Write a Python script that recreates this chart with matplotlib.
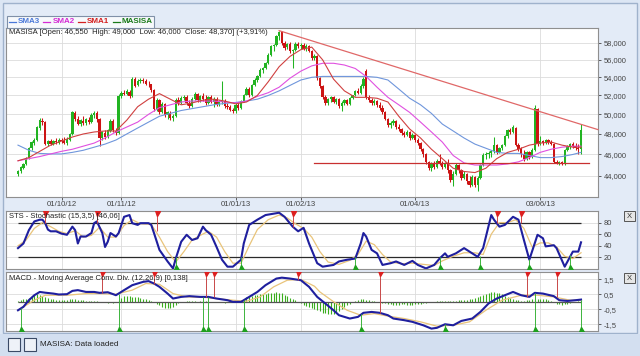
import numpy as np
import matplotlib
matplotlib.use('Agg')
import matplotlib.pyplot as plt
from matplotlib.patches import Rectangle
from matplotlib.lines import Line2D
from matplotlib.ticker import NullLocator, FixedLocator

plt.rcParams['font.family'] = ['Liberation Sans', 'DejaVu Sans']

# ---------------- data ----------------
opn = [44200, 44400, 44700, 45100, 45700, 46600, 47100, 47400, 48600, 49300,
       49200, 47000, 47300, 47000, 47300, 47100, 47400, 47300, 47100, 47400,
       48000, 50100, 49500, 49000, 49300, 49100, 49400, 49200, 49900, 50100,
       49500, 47600, 48100, 47700, 48300, 49300, 48300, 48100, 51900, 52300,
       52200, 52400, 51900, 53800, 53100, 53600, 53700, 53600, 53300, 53200,
       52600, 50600, 51500, 50200, 51100, 49900, 50100, 49600, 49800, 51500,
       51200, 51700, 51800, 51200, 50900, 51600, 52200, 51500, 51900, 51600,
       51200, 51800, 51300, 51600, 51100, 51300, 51400, 50900, 50800, 50500,
       50300, 51000, 50700, 51400, 52100, 52700, 52000, 53100, 53700, 54100,
       54800, 55000, 55600, 56600, 57600, 57700, 58800, 59300, 58000, 57500,
       57900, 57000, 57100, 57900, 57600, 57800, 57300, 57600, 57000, 56200,
       56400, 53900, 53000, 51800, 51200, 51600, 51800, 51300, 51600, 50900,
       51200, 51500, 51100, 51700, 52000, 52500, 52300, 53000, 54700, 51800,
       51500, 51200, 51400, 51000, 50700, 50200, 49500, 48900, 49100, 49300,
       48700, 48500, 48100, 47900, 48200, 47600, 47900, 47400, 47100, 46500,
       46000, 45300, 44700, 45200, 44800, 45400, 45200, 44800, 45100, 44500,
       43600, 44200, 45000, 44500, 43800, 44200, 43500, 43200, 43900, 43200,
       43800, 45000, 45900, 46000, 46100, 46300, 46900, 46200, 46600, 46900,
       47800, 48400, 48200, 48600, 46900, 46500, 46000, 45600, 46200, 45800,
       46400, 50600, 47000, 47300, 47100, 47400, 47200, 47000, 45300, 45200,
       45300, 45100, 46400, 46800, 47000, 46800, 46600, 46550]
high = [44500, 44900, 45200, 45800, 46700, 47300, 47600, 48800, 49600, 49600,
        49300, 47400, 47500, 47400, 47600, 47600, 47600, 47700, 47700, 48100,
        50400, 50300, 49800, 49500, 49800, 49600, 49700, 50100, 50300, 50300,
        49600, 48300, 48400, 48500, 49500, 49500, 48600, 52200, 52500, 52600,
        52700, 52600, 54000, 54000, 53800, 53900, 53900, 53800, 53600, 53300,
        52700, 51700, 51600, 51300, 51200, 50400, 50300, 50000, 51700, 51800,
        51900, 52000, 52000, 51500, 51800, 52400, 52300, 52000, 52300, 52100,
        51900, 52000, 51800, 51800, 51500, 53600, 51600, 51200, 51000, 50700,
        51200, 51200, 51500, 52200, 52900, 52900, 53300, 53900, 54300, 55000,
        55200, 55800, 56800, 57800, 57900, 59000, 59500, 59400, 58200, 58000,
        58100, 57300, 58100, 58100, 58000, 58000, 57900, 57800, 57200, 56700,
        56600, 54000, 53100, 52000, 51700, 51900, 51900, 51700, 51700, 51400,
        51600, 51600, 51800, 52100, 52600, 52800, 53200, 54000, 54900, 52000,
        51700, 51600, 51500, 51300, 51000, 50300, 49600, 49300, 49500, 49400,
        49000, 48600, 48300, 48400, 48300, 48100, 48000, 47600, 47200, 46600,
        46100, 45400, 45300, 45400, 45600, 46000, 45400, 45300, 45600, 44600,
        44400, 45200, 45100, 44600, 44400, 44300, 44000, 44100, 44000, 44000,
        45100, 46100, 46200, 46300, 46400, 47700, 47000, 46700, 47000, 47900,
        48500, 48600, 48900, 48700, 47100, 46700, 46400, 46300, 46300, 46600,
        51000, 50700, 47800, 47400, 47500, 47500, 47400, 47100, 45500, 45400,
        45400, 46500, 46900, 47100, 47200, 47100, 47000, 49000]
low = [44000, 44300, 44600, 45000, 45600, 46400, 46900, 47300, 48400, 48900,
       46900, 46800, 46900, 46900, 47000, 47000, 47100, 47000, 46900, 47300,
       47900, 49300, 48900, 48800, 48900, 48900, 49000, 49100, 49600, 49200,
       46800, 47400, 47500, 47600, 48200, 48200, 47900, 48000, 51700, 52000,
       52000, 51700, 51800, 52900, 53000, 53400, 53400, 53100, 52900, 52400,
       50300, 50300, 50000, 50100, 49700, 49500, 49400, 49300, 49700, 51000,
       51100, 51500, 51000, 50700, 50800, 51500, 51300, 51300, 51400, 51000,
       51100, 51200, 50800, 50900, 50900, 51100, 50700, 50600, 50300, 50100,
       50100, 50500, 50600, 51300, 52000, 51800, 51900, 53000, 53500, 54000,
       54500, 54900, 55500, 56400, 57000, 57600, 58400, 57800, 57200, 57300,
       56800, 55000, 57000, 57400, 57300, 57200, 57000, 56900, 56000, 56000,
       53700, 52800, 51600, 51000, 51000, 51300, 51200, 51100, 50700, 50300,
       51000, 51000, 51000, 51600, 51900, 52200, 52200, 52800, 51600, 51300,
       51000, 51000, 50800, 50500, 50000, 49400, 48700, 48600, 48900, 48500,
       48300, 47900, 47700, 47800, 47400, 47500, 47200, 46900, 46300, 45800,
       45100, 44500, 44400, 44600, 44700, 45000, 44600, 44700, 44300, 43400,
       43100, 44100, 44300, 43600, 43700, 43300, 43000, 43100, 43000, 42600,
       43700, 44900, 45600, 45700, 45800, 46100, 46000, 46100, 46400, 46800,
       47600, 48000, 48100, 46800, 46300, 45800, 45400, 45500, 45600, 45700,
       46300, 46800, 46900, 46900, 47000, 47000, 46900, 45200, 45100, 45000,
       45000, 45000, 46300, 46500, 46600, 46400, 46000, 46000]
cls = [44400, 44800, 45100, 45700, 46600, 47200, 47400, 48700, 49400, 49200,
       47000, 47300, 47000, 47300, 47200, 47400, 47300, 47100, 47500, 48000,
       50200, 49500, 49000, 49400, 49100, 49500, 49200, 49900, 50100, 49500,
       47600, 48200, 47700, 48400, 49300, 48400, 48100, 51900, 52300, 52200,
       52500, 51900, 53800, 53000, 53600, 53700, 53600, 53300, 53200, 52600,
       50600, 51500, 50200, 51100, 49900, 50200, 49600, 49800, 51500, 51200,
       51700, 51800, 51200, 50900, 51600, 52200, 51500, 51900, 51600, 51200,
       51800, 51300, 51600, 51100, 51300, 51400, 50900, 50800, 50500, 50300,
       51000, 50700, 51400, 52100, 52700, 52000, 53100, 53700, 54100, 54800,
       55000, 55600, 56600, 57600, 57700, 58800, 59300, 58000, 57400, 57900,
       57000, 57100, 57900, 57600, 57800, 57300, 57600, 57000, 56200, 56500,
       53900, 53000, 51800, 51200, 51600, 51800, 51300, 51600, 50900, 51200,
       51500, 51100, 51700, 52000, 52500, 52300, 53000, 53800, 51800, 51500,
       51200, 51400, 51000, 50700, 50200, 49500, 48900, 49100, 49300, 48700,
       48500, 48100, 47900, 48200, 47600, 47900, 47400, 47100, 46500, 46000,
       45300, 44700, 45200, 44800, 45400, 45200, 44800, 45100, 44500, 43600,
       44200, 45000, 44500, 43800, 44200, 43500, 43200, 43900, 43200, 43800,
       45000, 45900, 46000, 46100, 46300, 46900, 46200, 46600, 46900, 47800,
       48400, 48200, 48700, 46900, 46500, 46000, 45600, 46200, 45800, 46400,
       50700, 47000, 47300, 47100, 47400, 47200, 47000, 45300, 45200, 45300,
       45100, 46400, 46800, 47000, 46800, 46600, 46550, 48370]

ma_idx = list(range(0, 205, 4)) + [207]
sma1 = [45400, 45700, 46300, 46900, 47300, 47700, 48000, 48200, 48300, 48300,
        49400, 50800, 51600, 52200, 51600, 51000, 51200, 51500, 51600, 51400,
        51100, 51300, 52000, 53500, 55200, 56400, 57200, 57500, 56000, 53800,
        52500, 51800, 51800, 51700, 51300, 49800, 48500, 47600, 46500, 45600,
        44700, 44400, 44300, 44700, 45600, 46200, 46500, 46900, 47100, 47200,
        46900, 46700, 46700]
sma2 = [45400, 45600, 45800, 46050, 46300, 46500, 46800, 47100, 47600, 48200,
        48700, 49200, 50000, 50700, 51000, 51300, 51400, 51400, 51400, 51300,
        51200, 51400, 51900, 52300, 52900, 53900, 54700, 55300, 55600, 55600,
        55400, 55000, 54100, 52900, 51800, 51000, 50200, 49200, 48200, 47200,
        45900, 45200, 45000, 45000, 45000, 45100, 45300, 45700, 46200, 46500,
        46700, 46800, 46800]
sma3 = [46900, 46400, 46100, 46050, 46050, 46200, 46400, 46700, 47000, 47400,
        48000, 48600, 49200, 49800, 50100, 50400, 50600, 50800, 51000, 51150,
        51250, 51400, 51600, 52000, 52500, 53100, 53700, 54000, 54100, 54100,
        54100, 54100, 54100, 54000, 53700, 52700, 51700, 51000, 50100, 49000,
        48300, 47600, 47000, 46600, 46200, 46100, 46100, 45900, 45700, 45700,
        45800, 46000, 46200]

trend_idx = [96, 213.2]
trend_val = [59500, 48440]
support_idx = [109, 210]
support_val = [45150, 45150]

date_idx = [16, 38, 80, 104, 146, 192]
date_lbl = ['01/10/12', '01/11/12', '01/01/13', '01/02/13', '01/04/13', '03/06/13']
price_ticks = [44000, 46000, 48000, 50000, 52000, 54000, 56000, 58000]
price_lbls = ['44,000', '46,000', '48,000', '50,000', '52,000', '54,000', '56,000', '58,000']

sts_k_idx = [0, 2, 4, 6, 8, 9, 10, 11, 12, 14, 16, 18, 20, 21, 22, 23, 25, 27, 28, 29,
             31, 32, 33, 34, 36, 37, 39, 41, 42, 44, 45, 48, 49, 50, 52, 55, 57, 58, 60, 62,
             64, 66, 68, 69, 71, 73, 75, 77, 79, 82, 83, 85, 88, 91, 96, 98, 101, 103, 105, 107,
             110, 112, 116, 118, 121, 124, 126, 127, 128, 130, 132, 134, 137, 139, 142, 145, 147, 150, 153, 155,
             157, 158, 161, 164, 166, 169, 171, 174, 175, 177, 179, 182, 184, 186, 188, 191, 193, 194, 197, 198,
             201, 204, 206, 207]
sts_k = [36, 44, 67, 82, 85, 85, 79, 68, 65, 65, 61, 59, 73, 67, 44, 56, 56, 62, 79, 82,
         62, 38, 47, 62, 56, 62, 90, 93, 79, 76, 79, 79, 76, 62, 33, 13, 1, 18, 47, 59,
         50, 53, 73, 67, 59, 38, 16, 4, 4, 16, 44, 76, 85, 93, 97, 90, 73, 65, 71, 44,
         10, 4, 7, 13, 16, 18, 44, 62, 56, 33, 27, 7, 10, 13, 7, 14, 7, 1, 7, 18,
         27, 21, 27, 36, 30, 21, 36, 93, 85, 73, 76, 90, 85, 50, 16, 59, 53, 39, 41, 36,
         4, 30, 30, 46]
sts_d_idx = [0, 3, 6, 9, 12, 15, 18, 21, 24, 27, 30, 33, 36, 39, 42, 45, 49, 52, 55, 58,
             61, 64, 67, 70, 73, 76, 79, 82, 85, 88, 92, 96, 99, 102, 105, 108, 111, 114, 118, 122,
             125, 128, 131, 134, 137, 141, 145, 149, 153, 156, 160, 164, 168, 171, 174, 177, 180, 183, 186, 189,
             192, 195, 198, 201, 204, 207]
sts_d = [40, 50, 70, 80, 73, 65, 61, 66, 55, 58, 72, 55, 55, 75, 85, 78, 77, 55, 30, 12,
         30, 50, 58, 65, 55, 30, 10, 10, 40, 68, 85, 93, 88, 78, 70, 55, 30, 12, 8, 15,
         25, 48, 42, 25, 12, 9, 10, 8, 6, 14, 22, 28, 28, 25, 60, 80, 80, 85, 70, 38,
         45, 45, 38, 22, 18, 28]
sts_sell_idx = [10, 29, 51, 101, 176, 185]
sts_sell_val = [80, 80, 65, 73, 80, 80]
sts_buy_idx = [58, 82, 124, 155, 170, 188, 203]
sts_buy_val = [20, 20, 20, 20, 22, 18, 25]

macd_idx = [0, 2, 4, 6, 8, 10, 13, 15, 18, 20, 22, 25, 28, 30, 33, 35, 36, 39, 42, 46,
            48, 50, 52, 55, 57, 60, 63, 67, 70, 73, 77, 79, 82, 84, 88, 91, 95, 97, 100, 104,
            107, 110, 113, 116, 118, 122, 125, 127, 130, 133, 136, 138, 142, 145, 149, 152, 154, 157, 160, 163,
            167, 170, 173, 176, 179, 182, 185, 188, 190, 193, 197, 199, 202, 205, 207]
macd = [-0.57, -0.34, 0.1, 0.43, 0.65, 0.6, 0.54, 0.48, 0.5, 0.72, 0.77, 0.65, 0.65, 0.59, 0.63, 0.5, 0.43, 0.77, 1.1, 1.32,
        1.37, 1.21, 0.99, 0.54, 0.21, 0.32, 0.37, 0.32, 0.32, 0.21, 0.1, -0.01, -0.01, 0.21, 0.65, 1.1, 1.54, 1.6, 1.54, 1.43,
        0.99, 0.32, -0.12, -0.57, -0.9, -1.12, -1.01, -0.74, -0.68, -0.74, -0.9, -1.12, -1.23, -1.34, -1.57, -1.79, -1.74, -1.5, -1.57, -1.28,
        -1.12, -0.68, -0.12, 0.21, 0.43, 0.65, 0.43, 0.32, 0.59, 0.54, 0.37, 0.1, 0.05, 0.1, 0.14]
sig_idx = [0, 6, 10, 18, 25, 30, 36, 42, 47, 52, 57, 62, 69, 79, 84, 89, 94, 99, 104, 109,
           111, 116, 121, 126, 131, 136, 142, 148, 154, 160, 166, 172, 178, 185, 191, 197, 203, 207]
sig = [-0.57, 0.1, 0.43, 0.43, 0.54, 0.54, 0.5, 0.77, 1.21, 1.16, 0.54, 0.32, 0.28, 0.1, 0.03, 0.32, 0.99, 1.43, 1.48, 1.03,
       0.65, 0.0, -0.57, -0.9, -0.79, -0.96, -1.12, -1.34, -1.63, -1.57, -1.34, -0.57, 0.1, 0.43, 0.43, 0.32, 0.1, 0.1]
hist = [0.05, 0.1, 0.15, 0.2, 0.25, 0.35, 0.45, 0.5, 0.45, 0.4,
        0.3, 0.25, 0.2, 0.15, 0.12, 0.1, 0.1, 0.12, 0.1, 0.15,
        0.18, 0.15, 0.12, 0.1, 0.08, 0.05, 0.05, 0.06, 0.05, 0.03,
        -0.02, -0.04, -0.05, -0.06, -0.05, -0.06, -0.05, 0.1, 0.25, 0.35,
        0.38, 0.35, 0.33, 0.3, 0.28, 0.25, 0.2, 0.15, 0.1, 0.05,
        -0.05, -0.15, -0.25, -0.35, -0.4, -0.42, -0.4, -0.32, -0.2, -0.1,
        -0.05, 0.0, 0.02, 0.03, 0.02, 0.02, 0.0, 0.02, 0.03, 0.02,
        0.0, -0.02, -0.03, -0.03, -0.05, -0.05, -0.06, -0.05, -0.05, -0.03,
        0.0, 0.05, 0.12, 0.2, 0.28, 0.33, 0.38, 0.42, 0.45, 0.48,
        0.5, 0.52, 0.55, 0.58, 0.6, 0.62, 0.6, 0.55, 0.45, 0.35,
        0.25, 0.15, 0.08, 0.0, -0.1, -0.2, -0.3, -0.38, -0.45, -0.5,
        -0.58, -0.65, -0.72, -0.78, -0.82, -0.85, -0.82, -0.75, -0.65, -0.5,
        -0.38, -0.25, -0.15, -0.05, 0.05, 0.12, 0.15, 0.15, 0.12, 0.08,
        0.05, 0.03, 0.0, -0.03, -0.06, -0.1, -0.15, -0.18, -0.2, -0.2,
        -0.2, -0.18, -0.18, -0.2, -0.22, -0.2, -0.18, -0.15, -0.12, -0.1,
        -0.08, -0.05, -0.02, 0.0, 0.02, 0.05, 0.06, 0.06, 0.05, 0.04,
        0.05, 0.06, 0.08, 0.1, 0.12, 0.14, 0.15, 0.18, 0.22, 0.3,
        0.38, 0.45, 0.52, 0.58, 0.62, 0.62, 0.6, 0.55, 0.48, 0.4,
        0.32, 0.25, 0.18, 0.12, 0.08, 0.05, 0.05, 0.08, 0.12, 0.15,
        0.18, 0.2, 0.2, 0.18, 0.15, 0.1, 0.05, -0.05, -0.12, -0.18,
        -0.2, -0.18, -0.12, -0.06, -0.02, 0.0, 0.02, 0.04]
macd_sell_idx = [31, 50, 69, 72, 103, 133, 187, 198]
macd_sell_val = [0.6, 1.21, 0.32, 0.3, 1.45, -0.74, 0.32, 0.3]
macd_buy_idx = [1, 37, 68, 70, 83, 126, 157, 190, 207]
macd_buy_val = [-0.45, 0.5, 0.32, 0.32, 0.1, -0.85, -1.5, 0.59, 0.14]

# ---------------- styling ----------------
W, H = 640, 356
GREEN = '#22b422'
RED = '#cc1414'
NAVY = '#1f1f9e'
TAN = '#e9c47a'
GRID = '#dcdcdc'
SPINE = '#8f8f8f'
XL, XR = -4.41, 213.24

fig = plt.figure(figsize=(6.4, 3.56), dpi=100)
fig.patch.set_facecolor('#dce6f4')


def rect(l, t, r, b):
    return [l / W, 1 - b / H, (r - l) / W, (b - t) / H]


def fx(x):
    return x / W


def fy(y):
    return 1 - y / H


# outer container
fig.add_artist(Rectangle((fx(3), fy(333)), fx(634), (330) / H, transform=fig.transFigure,
                         fc='#e3ebf7', ec='#9fb2cc', lw=1, zorder=0))
# status bar
fig.add_artist(Rectangle((0, 0), 1, 22 / H, transform=fig.transFigure,
                         fc='#d3dff0', ec='none', zorder=0))


def style_axes(ax):
    ax.set_facecolor('white')
    for s in ax.spines.values():
        s.set_color(SPINE)
        s.set_linewidth(0.8)
    ax.yaxis.tick_right()
    ax.tick_params(axis='y', labelsize=5.4, length=2.5, width=0.6, pad=1.5,
                   colors='#444444')
    ax.set_xlim(XL, XR)
    ax.set_xticks(date_idx)
    ax.grid(True, color=GRID, lw=0.6, zorder=0)
    ax.set_axisbelow(True)


# ---------------- main price panel ----------------
ax = fig.add_axes(rect(6, 28, 598, 196.5))
ax.set_yscale('log')
style_axes(ax)
ax.set_ylim(42150, 59830)
ax.yaxis.set_major_locator(FixedLocator(price_ticks))
ax.yaxis.set_minor_locator(NullLocator())
ax.set_yticklabels(price_lbls)
ax.set_xticklabels(date_lbl)
ax.tick_params(axis='x', labelsize=5.6, length=2, width=0.6, pad=1.2, colors='#444444')

idx = np.arange(len(cls))
o = np.array(opn, float)
c = np.array(cls, float)
hi = np.array(high, float)
lo = np.array(low, float)
col = np.where(c >= o, GREEN, RED)
ax.vlines(idx, lo, hi, colors=col, lw=0.75, zorder=3)
body = np.maximum(np.abs(c - o), 40)
ax.bar(idx, body, bottom=np.minimum(o, c), width=0.85, color=col, lw=0, zorder=3)

ax.plot(ma_idx, sma3, color='#6f96dc', lw=0.8, zorder=4)
ax.plot(ma_idx, sma2, color='#e050e0', lw=0.8, zorder=4)
ax.plot(ma_idx, sma1, color='#d04040', lw=0.8, zorder=4)
ax.plot(trend_idx, trend_val, color='#e06868', lw=0.9, zorder=4, clip_on=False)
ax.plot(support_idx, support_val, color='#c83030', lw=0.9, zorder=4)

fig.text(fx(9), fy(33), 'MASISA [Open: 46,550  High: 49,000  Low: 46,000  Close: 48,370] (+3,91%)',
         fontsize=5.5, va='center', ha='left', color='#222222', zorder=10)

# ---------------- stochastic panel ----------------
ax2 = fig.add_axes(rect(6, 211, 598, 269))
style_axes(ax2)
ax2.set_ylim(0, 100)
ax2.set_yticks([20, 40, 60, 80])
ax2.set_yticklabels(['20', '40', '60', '80'])
ax2.tick_params(axis='x', length=0, labelbottom=False)
ax2.hlines([20, 80], 0, 207, color='#2a2a2a', lw=0.9, zorder=2)
ax2.plot(sts_d_idx, sts_d, color=TAN, lw=0.9, zorder=3)
ax2.plot(sts_k_idx, sts_k, color=NAVY, lw=1.5, zorder=4)
ax2.vlines(sts_sell_idx, sts_sell_val, 97, color='#d04848', lw=0.7, zorder=5)
ax2.plot(sts_sell_idx, [96.5] * len(sts_sell_idx), 'v', color='#dd2020', ms=3.6, zorder=6)
ax2.vlines(sts_buy_idx, 3, sts_buy_val, color='#3cb43c', lw=0.7, zorder=5)
ax2.plot(sts_buy_idx, [4] * len(sts_buy_idx), '^', color='#1ea01e', ms=3.6, zorder=6)
fig.text(fx(9), fy(217), 'STS - Stochastic (15,3,5) [46,06]', fontsize=5.5,
         va='center', ha='left', color='#222222', zorder=10)

# ---------------- MACD panel ----------------
ax3 = fig.add_axes(rect(6, 271.5, 598, 331))
style_axes(ax3)
ax3.set_ylim(-1.95, 2.01)
ax3.set_yticks([1.5, 0.5, -0.5, -1.5])
ax3.set_yticklabels(['1,5', '0,5', '-0,5', '-1,5'])
ax3.tick_params(axis='x', length=0, labelbottom=False)
ax3.vlines(np.arange(len(hist)), 0, hist, color='#3aae1e', lw=0.8, zorder=2)
ax3.hlines(0, 0, 207, color='#555555', lw=0.9, zorder=2)
ax3.plot(sig_idx, sig, color=TAN, lw=0.9, zorder=3)
ax3.plot(macd_idx, macd, color=NAVY, lw=1.5, zorder=4)
ax3.vlines(macd_sell_idx, macd_sell_val, 1.9, color='#c84848', lw=0.7, zorder=5)
ax3.plot(macd_sell_idx, [1.88] * len(macd_sell_idx), 'v', color='#dd2020', ms=3.6, zorder=6)
ax3.vlines(macd_buy_idx, -1.85, macd_buy_val, color='#3cb43c', lw=0.7, zorder=5)
ax3.plot(macd_buy_idx, [-1.82] * len(macd_buy_idx), '^', color='#1ea01e', ms=3.6, zorder=6)
fig.text(fx(9), fy(278), 'MACD - Moving Average Conv. Div. (12,26,9) [0,138]', fontsize=5.5,
         va='center', ha='left', color='#222222', zorder=10)

# ---------------- legend tab ----------------
fig.add_artist(Rectangle((fx(7), fy(27.5)), fx(147), 11.5 / H, transform=fig.transFigure,
                         fc='#f7f9fc', ec='#8090a8', lw=0.8, zorder=5))
leg = [('SMA3', '#4a78d8', 9, 18), ('SMA2', '#d42ad4', 43, 53),
       ('SMA1', '#d42020', 78, 87), ('MASISA', '#1a7a1a', 113, 122)]
for name, colr, lx, tx in leg:
    fig.add_artist(Line2D([fx(lx), fx(lx + 7)], [fy(21.7), fy(21.7)], transform=fig.transFigure,
                          color=colr, lw=0.9, zorder=6))
    fig.text(fx(tx), fy(21.7), name, color=colr, fontsize=5.8, fontweight='bold',
             va='center', ha='left', zorder=6)

# ---------------- close buttons ----------------
for ty in (211, 273):
    fig.add_artist(Rectangle((fx(624), fy(ty + 10)), fx(11), 10 / H, transform=fig.transFigure,
                             fc='#e6e6e6', ec='#555555', lw=0.7, zorder=5))
    fig.text(fx(629.5), fy(ty + 5), 'X', fontsize=5.5, ha='center', va='center',
             color='#333333', zorder=6)

# ---------------- status bar ----------------
for lx in (8, 24):
    fig.add_artist(Rectangle((fx(lx), fy(351)), fx(12), 13 / H, transform=fig.transFigure,
                             fc='#eef2f8', ec='#3a4a66', lw=0.8, zorder=5))
fig.text(fx(40), fy(345), 'MASISA: Data loaded', fontsize=5.8, va='center', ha='left',
         color='#222222')

fig.savefig('out.png', dpi=100, facecolor=fig.get_facecolor())
